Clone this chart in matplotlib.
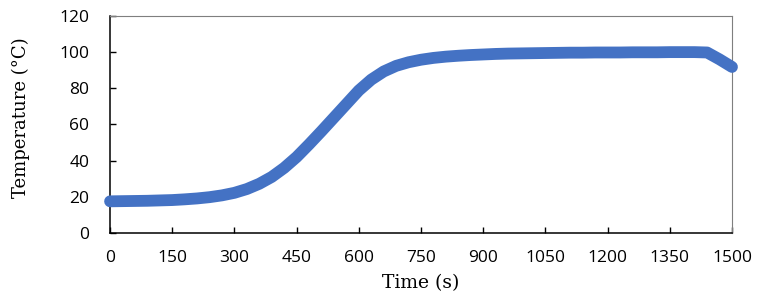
import numpy as np
import matplotlib
matplotlib.use('Agg')
import matplotlib.pyplot as plt

###############################################################################
# Data
###############################################################################

time_s = [0, 30, 60, 90, 120, 150, 180, 210, 240, 270,
          300, 330, 360, 390, 420, 450, 480, 510, 540, 570,
          600, 630, 660, 690, 720, 750, 780, 810, 840, 870,
          900, 930, 960, 990, 1020, 1050, 1080, 1110, 1140, 1170,
          1200, 1230, 1260, 1290, 1320, 1350, 1380, 1410, 1440, 1470, 1500]
temp_c = [17.5, 17.6, 17.7, 17.8, 18.0, 18.2, 18.6, 19.1, 19.8, 20.8,
          22.2, 24.3, 27.2, 31.0, 36.0, 42.0, 49.0, 56.3, 63.8, 71.3,
          78.8, 84.8, 89.3, 92.4, 94.4, 95.8, 96.8, 97.5, 98.0, 98.4,
          98.7, 99.0, 99.2, 99.3, 99.4, 99.5, 99.6, 99.7, 99.7, 99.8,
          99.8, 99.8, 99.9, 99.9, 99.9, 100.0, 100.0, 100.0, 99.8, 96.0, 91.8]

xticks = [0, 150, 300, 450, 600, 750, 900, 1050, 1200, 1350, 1500]
yticks = [0, 20, 40, 60, 80, 100, 120]

###############################################################################
# Plot
###############################################################################

fig = plt.figure(figsize=(7.59, 3.01), dpi=100)
ax = fig.add_axes([0.145, 0.226, 0.8194, 0.721])

ax.plot(time_s, temp_c, color='#4472C4', lw=8.5, solid_capstyle='round',
        solid_joinstyle='round', clip_on=False, zorder=3)

ax.set_xlim(0, 1500)
ax.set_ylim(0, 120)
ax.set_xticks(xticks)
ax.set_yticks(yticks)

tickfont = 'Open Sans'
ax.tick_params(direction='in', length=4, width=1, color='black')
ax.tick_params(axis='y', pad=15)
ax.tick_params(axis='x', pad=12)
for lab in ax.get_xticklabels() + ax.get_yticklabels():
    lab.set_fontfamily(tickfont)
    lab.set_fontsize(12.5)

for s in ['left', 'bottom']:
    ax.spines[s].set_color('black')
    ax.spines[s].set_linewidth(1.1)
for s in ['top', 'right']:
    ax.spines[s].set_color('#7f7f7f')
    ax.spines[s].set_linewidth(0.8)

ax.set_xlabel('Time (s)', family='DejaVu Serif', fontsize=13.5, labelpad=6)
ax.set_ylabel('Temperature (°C)', family='DejaVu Serif', fontsize=13, labelpad=20)
ax.yaxis.set_label_coords(-0.128, 0.53)

plt.savefig('out.png', dpi=100)
